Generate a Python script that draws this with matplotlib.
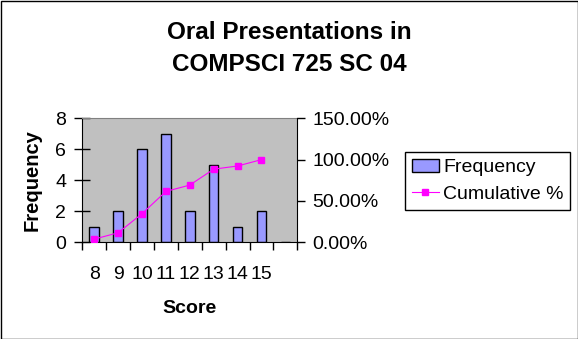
#Histogram of presentation scores with cumulative % line (Excel style)

import numpy as np
import matplotlib.pyplot as plt
from matplotlib.patches import Rectangle
from matplotlib.lines import Line2D

plt.rcParams["font.family"] = ["Liberation Sans", "DejaVu Sans"]

#data
scores = ['8', '9', '10', '11', '12', '13', '14', '15', '']
freq = [1, 2, 6, 7, 2, 5, 1, 2, 0]
cum_pct = [3.85, 11.54, 34.62, 61.54, 69.23, 88.46, 92.31, 100.0]

bar_col = '#9999FF'
line_col = '#FF00FF'

fig = plt.figure(figsize=(5.78, 3.39), dpi=100)
ax = fig.add_axes([82.3/578, 1-242.3/339, (297.3-82.3)/578, (242.3-118.3)/339])
ax.set_facecolor('#C0C0C0')

x = np.arange(len(scores))
ax.bar(x, freq, width=0.4, color=bar_col, edgecolor='black', linewidth=1, zorder=2)
ax.set_xlim(-0.5, len(scores)-0.5)
ax.set_ylim(0, 8)
ax.set_yticks([0, 2, 4, 6, 8])
ax.tick_params(axis='y', direction='inout', length=11, width=1, labelsize=14, pad=6)

#category boundaries as major ticks, labels on minor ticks
ax.set_xticks(np.arange(-0.5, len(scores), 1.0))
ax.set_xticklabels([])
ax.set_xticks(x, minor=True)
ax.set_xticklabels(scores, minor=True)
ax.tick_params(axis='x', which='major', direction='out', length=6, width=1)
ax.tick_params(axis='x', which='minor', length=0, labelsize=14, pad=17)

for s in ['left', 'bottom']:
    ax.spines[s].set_color('black')
ax.spines['top'].set_color('#808080')
ax.spines['right'].set_visible(False)

ax.set_xlabel('Score', fontsize=14, fontweight='bold', labelpad=12)
ax.set_ylabel('Frequency', fontsize=14.5, fontweight='bold', labelpad=10)

ax2 = ax.twinx()
ax2.plot(x[:len(cum_pct)], np.array(cum_pct)/100, color=line_col, lw=0.8,
         marker='s', markersize=4.5, zorder=3)
ax2.set_ylim(0, 1.5)
ax2.set_yticks([0, 0.5, 1.0, 1.5])
ax2.set_yticklabels(['0.00%', '50.00%', '100.00%', '150.00%'])
ax2.tick_params(axis='y', direction='out', length=6, width=1, labelsize=14, pad=5)
ax2.spines['right'].set_color('black')
ax2.spines['top'].set_visible(False)
ax2.spines['left'].set_visible(False)
ax2.spines['bottom'].set_visible(False)

#title
fig.text(0.5, 1-32.5/339, 'Oral Presentations in', ha='center', va='center',
         fontsize=17.5, fontweight='bold')
fig.text(0.5, 1-64.5/339, 'COMPSCI 725 SC 04', ha='center', va='center',
         fontsize=17.5, fontweight='bold')

#legend
handles = [Rectangle((0, 0), 1, 1, facecolor=bar_col, edgecolor='black', lw=1),
           Line2D([], [], color=line_col, lw=0.8, marker='s', markersize=4.5)]
leg = fig.legend(handles, ['Frequency', 'Cumulative %'], loc='upper left',
                 bbox_to_anchor=(405/578, 1-152/339), fontsize=14,
                 fancybox=False, edgecolor='black', framealpha=1,
                 borderpad=0.35, labelspacing=0.45, handlelength=1.4,
                 handletextpad=0.2, borderaxespad=0)
leg.get_frame().set_linewidth(1)

#outer border
fig.patches.append(Rectangle((0.5/578, 0.5/339), 1-1/578, 1-1/339, transform=fig.transFigure,
                             fill=False, edgecolor='black', lw=1))

plt.savefig('out.png', dpi=100)
